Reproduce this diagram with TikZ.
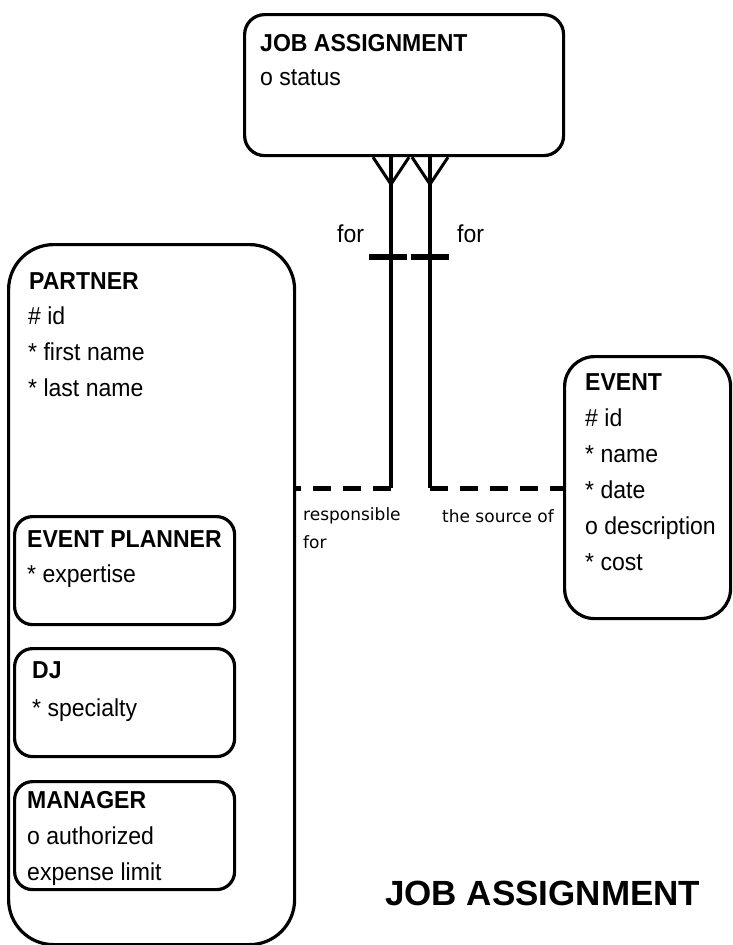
\documentclass[tikz,border=0pt]{standalone}
\usepackage{fontspec}
\setmainfont{Liberation Sans}
\newfontfamily\attrfont[FakeStretch=0.94]{Liberation Sans}
\newfontfamily\lblfont{DejaVu Sans}
\usetikzlibrary{calc}
\begin{document}
\begin{tikzpicture}[x=1pt,y=-1pt,
  box/.style={draw, line width=3.2pt, anchor=north west, inner sep=0pt},
  txt/.style={anchor=base west, inner sep=0pt, font=\attrfont\fontsize{24.5}{28}\selectfont},
  head/.style={txt, font=\attrfont\fontsize{24.5}{28}\selectfont\bfseries},
  lbl/.style={anchor=base west, inner sep=0pt, font=\lblfont\fontsize{17}{20}\selectfont},
  link/.style={line width=3.6pt},
  optional/.style={line width=5pt, dash pattern=on 18pt off 12pt},
  crow/.style={line width=3pt, line join=miter},
  bar/.style={line width=6pt},
]
\useasboundingbox (0,0) rectangle (732,945);

% entity boxes
\node[box, rounded corners=20pt, minimum width=319pt, minimum height=141pt] (ja) at (243,13) {};
\node[box, rounded corners=45pt, minimum width=286pt, minimum height=700pt] (partner) at (7,243) {};
\node[box, rounded corners=30pt, minimum width=166pt, minimum height=262pt] (event) at (563,355) {};
\node[box, rounded corners=18pt, minimum width=220pt, minimum height=108pt] (planner) at (13,515) {};
\node[box, rounded corners=18pt, minimum width=220pt, minimum height=108pt] (dj) at (13,647) {};
\node[box, rounded corners=18pt, minimum width=220pt, minimum height=108pt] (manager) at (13,780) {};

% JOB ASSIGNMENT attributes
\node[head] (jaT) at (260,51) {JOB ASSIGNMENT};
\node[txt] (jaA) at (260,85) {o status};

% PARTNER attributes
\node[head] (paT) at (29,289) {PARTNER};
\node[txt] (paA) at (28,324) {\# id};
\node[txt] (paB) at (28,360) {* first name};
\node[txt] (paC) at (28,396) {* last name};

% EVENT attributes
\node[head] (evT) at (585,390) {EVENT};
\node[txt] (evA) at (585,426) {\# id};
\node[txt] (evB) at (585,462) {* name};
\node[txt] (evC) at (585,498) {* date};
\node[txt] (evD) at (585,534) {o description};
\node[txt] (evE) at (585,570) {* cost};

% subtypes
\node[head] (epT) at (27,547) {EVENT PLANNER};
\node[txt] (epA) at (27,582) {* expertise};
\node[head] (djT) at (32,678) {DJ};
\node[txt] (djA) at (32,716) {* specialty};
\node[head] (mgT) at (27,808) {MANAGER};
\node[txt] (mgA) at (27,844) {o authorized};
\node[txt] (mgB) at (27,880) {expense limit};

% relationship corners and tick positions
\coordinate (c1) at (391,488);
\coordinate (c2) at (430,488);
\coordinate (t1) at (391,257);
\coordinate (t2) at (430,257);

% JOB ASSIGNMENT -- PARTNER
\draw[link] (ja.south -| c1) -- (c1);
\draw[optional] (c1) -- (partner.east |- c1);
\draw[crow] ($(ja.south -| c1)+(-18,0)$) -- ($(ja.south -| c1)+(0,27)$) -- ($(ja.south -| c1)+(18,0)$);
\draw[bar] ($(t1)+(-22,0)$) -- ($(t1)+(16,0)$);

% JOB ASSIGNMENT -- EVENT
\draw[link] (ja.south -| c2) -- (c2);
\draw[optional] (c2) -- (event.west |- c2);
\draw[crow] ($(ja.south -| c2)+(-18,0)$) -- ($(ja.south -| c2)+(0,27)$) -- ($(ja.south -| c2)+(18,0)$);
\draw[bar] ($(t2)+(-19,0)$) -- ($(t2)+(19,0)$);

% relationship names
\node[txt] (f1) at (337,242) {for};
\node[txt] (f2) at (457,242) {for};
\node[lbl] (r1) at (303,520) {responsible};
\node[lbl] (r2) at (303,548) {for};
\node[lbl] (s1) at (442,522) {the source of};

% title
\node[anchor=base west, inner sep=0pt, font=\fontsize{35}{40}\selectfont\bfseries] (title) at (385,905) {JOB ASSIGNMENT};
\end{tikzpicture}
\end{document}
